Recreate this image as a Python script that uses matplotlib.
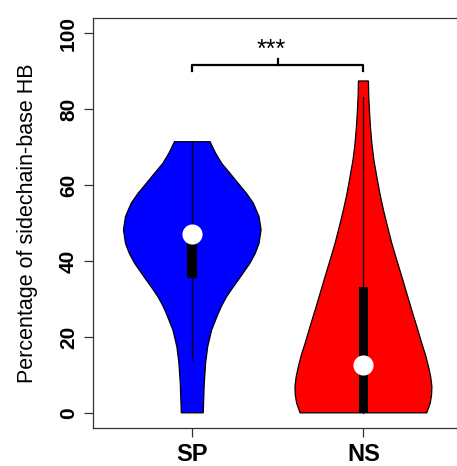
"""
Violin plot: percentage of sidechain-base HB, SP vs NS
"""

import matplotlib.pyplot as plt

plt.rcParams['font.family'] = ['Liberation Sans', 'DejaVu Sans']

# Groups
groups = ['SP', 'NS']
positions = [1, 2]
colors = ['#0000FF', '#FF0000']

# Violin outlines: value levels and half-widths
sp_levels = [71.4, 68.5, 65.7, 63.0, 60.4, 57.8, 55.2, 51.7, 48.2, 44.6, 42.0,
             39.4, 37.2, 35.0, 32.8, 30.6, 28.4, 26.2, 21.8, 17.4, 13.1, 7.8, 0.0]
sp_halfwidth = [0.104, 0.135, 0.172, 0.222, 0.269, 0.317, 0.357, 0.390, 0.402,
                0.390, 0.368, 0.337, 0.303, 0.269, 0.234, 0.201, 0.174, 0.152,
                0.113, 0.090, 0.078, 0.070, 0.064]

ns_levels = [87.4, 83.5, 79.7, 75.3, 71.0, 66.6, 62.2, 57.8, 53.4, 49.0, 44.6,
             40.2, 35.9, 31.5, 27.1, 22.7, 18.3, 15.2, 12.2, 9.5, 6.9, 4.7, 2.5, 0.0]
ns_halfwidth = [0.029, 0.031, 0.035, 0.041, 0.049, 0.061, 0.078, 0.096, 0.117,
                0.141, 0.166, 0.195, 0.224, 0.253, 0.282, 0.312, 0.341, 0.363,
                0.380, 0.393, 0.400, 0.398, 0.390, 0.370]

# Box summaries
medians = [47.1, 12.6]
q1 = [35.4, 0.0]
q3 = [48.0, 33.2]
whisk_lo = [13.9, 0.0]
whisk_hi = [71.4, 83.3]

# Significance bracket
bracket_y = 91.6
bracket_tip = 90.0
bracket_mid = 93.3
star_label = '***'
star_y = 95.6

yticks = [0, 20, 40, 60, 80, 100]

fig = plt.figure(figsize=(4.57, 4.66), dpi=100)
ax = fig.add_axes([0.2035, 0.0815, 0.809, 0.880])

profiles = [(sp_levels, sp_halfwidth), (ns_levels, ns_halfwidth)]
for pos, col, (lev, hw) in zip(positions, colors, profiles):
    left = [pos - w for w in hw]
    right = [pos + w for w in hw]
    xs = left + right[::-1]
    ys = lev + lev[::-1]
    ax.fill(xs, ys, facecolor=col, edgecolor='black', linewidth=0.9, zorder=2)

for i, pos in enumerate(positions):
    ax.plot([pos, pos], [whisk_lo[i], whisk_hi[i]], color='black', linewidth=0.9, zorder=3)
    ax.bar(pos, q3[i] - q1[i], bottom=q1[i], width=0.056, color='black', zorder=4)
    ax.plot(pos, medians[i], 'o', color='white', markersize=14.5, markeredgewidth=0, zorder=5)

# bracket
ax.plot([1, 1, 2, 2], [bracket_tip, bracket_y, bracket_y, bracket_tip],
        color='black', linewidth=1.6, zorder=3)
ax.plot([1.5, 1.5], [bracket_y, bracket_mid], color='black', linewidth=1.6, zorder=3)
ax.text(1.46, star_y, star_label, ha='center', va='center', fontsize=18)

ax.set_xlim(0.42, 2.58)
ax.set_ylim(-4, 104)
ax.set_xticks(positions)
ax.set_xticklabels(groups, fontsize=17, fontweight='bold')
ax.set_yticks(yticks)
ax.set_yticklabels([str(t) for t in yticks], fontsize=15, fontweight='bold',
                   rotation=90, va='center')
ax.tick_params(axis='both', direction='out', length=6.8, width=0.9, color='#333333')
ax.tick_params(axis='y', pad=4)
ax.tick_params(axis='x', pad=4)
ax.set_ylabel('Percentage of sidechain-base HB', fontsize=15.5, labelpad=15)

for side in ['left', 'top', 'bottom', 'right']:
    ax.spines[side].set_color('#333333')
    ax.spines[side].set_linewidth(0.9)

plt.savefig('out.png', dpi=100)
